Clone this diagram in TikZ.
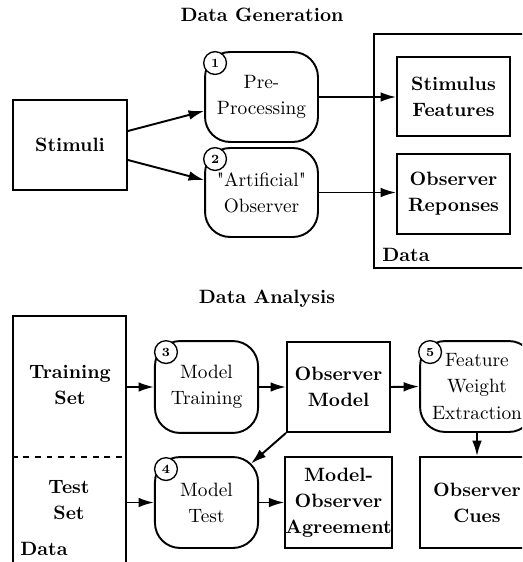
\documentclass[tikz,border=0pt]{standalone}
\usetikzlibrary{arrows.meta,calc}

\tikzset{
  txt/.style={font=\fontsize{10}{13.5}\selectfont, align=center, inner sep=0pt},
  databox/.style={txt, draw, line width=1pt, font=\fontsize{10}{13.5}\selectfont\bfseries},
  procbox/.style={txt, draw, line width=1pt, rounded corners=13pt},
  container/.style={draw, line width=1.3pt, inner sep=0pt},
  numdot/.style={circle, draw, line width=0.7pt, fill=white, inner sep=0pt,
    minimum size=11.8pt, font=\fontsize{6.5}{6.5}\selectfont\bfseries},
  flow/.style={-{Latex[length=8pt,width=5pt]}, line width=1pt},
  heading/.style={font=\fontsize{10}{12}\selectfont\bfseries, inner sep=0pt},
}

\begin{document}
\begin{tikzpicture}[x=0.518pt, y=-0.518pt]
  \useasboundingbox (0,0) rectangle (522,562);
  \clip (0,0) rectangle (522,562);

  % ---------- Data Generation ----------
  \node[heading] (genhead) at (262,15) {Data Generation};

  \node[container, minimum width=80.8pt, minimum height=121.2pt] (datagen) at (452,151) {};
  \node[heading, anchor=south west] (datagenlbl) at (382,262) {Data};

  \node[databox, minimum width=59pt, minimum height=46.6pt] (stim) at (70,145) {Stimuli};

  \node[procbox, minimum width=58.5pt, minimum height=46.6pt] (pre) at (261.5,97) {Pre-\\Processing};
  \node[procbox, minimum width=58.5pt, minimum height=46.1pt] (aobs) at (261.5,192.5) {\textquotedbl Artificial\textquotedbl\\Observer};

  \node[databox, minimum width=58.5pt, minimum height=41pt] (feat) at (453.5,96.5) {Stimulus\\Features};
  \node[databox, minimum width=58.5pt, minimum height=41.4pt] (resp) at (453.5,194) {Observer\\Reponses};

  \node[numdot] (n1) at ($(pre.north west)+(11,12)$) {1};
  \node[numdot] (n2) at ($(aobs.north west)+(11,12)$) {2};

  \draw[flow] ($(stim.east)+(0,-14)$) -- ($(pre.west)+(0,14)$);
  \draw[flow] ($(stim.east)+(0,15)$) -- ($(aobs.west)+(0,-12.5)$);
  \draw[flow] (pre.east) -- (pre.east -| feat.west);
  \draw[flow] (aobs.east) -- (aobs.east -| resp.west);

  % ---------- Data Analysis ----------
  \node[heading] (anahead) at (267,299) {Data Analysis};

  \node[container, minimum width=58.5pt, minimum height=140pt] (dataana) at (69.5,451) {};
  \draw[dashed, line width=0.6pt] (dataana.west |- 0,457) -- (dataana.east |- 0,457);
  \node[databox, draw=none] (train) at (70,385) {Training\\Set};
  \node[databox, draw=none] (test) at (69,500) {Test\\Set};
  \node[heading, anchor=south west] (dataanalbl) at (20,556) {Data};

  \node[procbox, minimum width=53.4pt, minimum height=47.6pt] (mtrain) at (206.5,387) {Model\\Training};
  \node[procbox, minimum width=53.4pt, minimum height=47.1pt] (mtest) at (206.5,502.5) {Model\\Test};
  \node[databox, minimum width=53.4pt, minimum height=46.6pt] (omodel) at (338.5,387) {Observer\\Model};
  \node[databox, minimum width=53.4pt, minimum height=47.1pt] (agree) at (338.5,502.5) {Model-\\Observer\\Agreement};
  \node[procbox, minimum width=59pt, minimum height=47.1pt] (fwe) at (477,386.5) {Feature\\Weight\\Extraction};
  \node[databox, minimum width=59pt, minimum height=47.1pt] (cues) at (477,502.5) {Observer\\Cues};

  \node[numdot] (n3) at ($(mtrain.north west)+(12,12)$) {3};
  \node[numdot] (n4) at ($(mtest.north west)+(12,13)$) {4};
  \node[numdot] (n5) at ($(fwe.north west)+(11,12)$) {5};

  \draw[flow] (mtrain.west -| dataana.east) -- (mtrain.west);
  \draw[flow] (mtest.west -| dataana.east) -- (mtest.west);
  \draw[flow] (mtrain.east) -- (omodel.west);
  \draw[flow] (omodel.east) -- (fwe.west);
  \coordinate (mtestcorner) at ($(mtest.north east)+(-8,7.5)$);
  \draw[flow] (omodel.south west) -- (mtestcorner);
  \draw[flow] (mtest.east) -- (agree.west);
  \draw[flow] (fwe.south) -- (cues.north);
\end{tikzpicture}
\end{document}
